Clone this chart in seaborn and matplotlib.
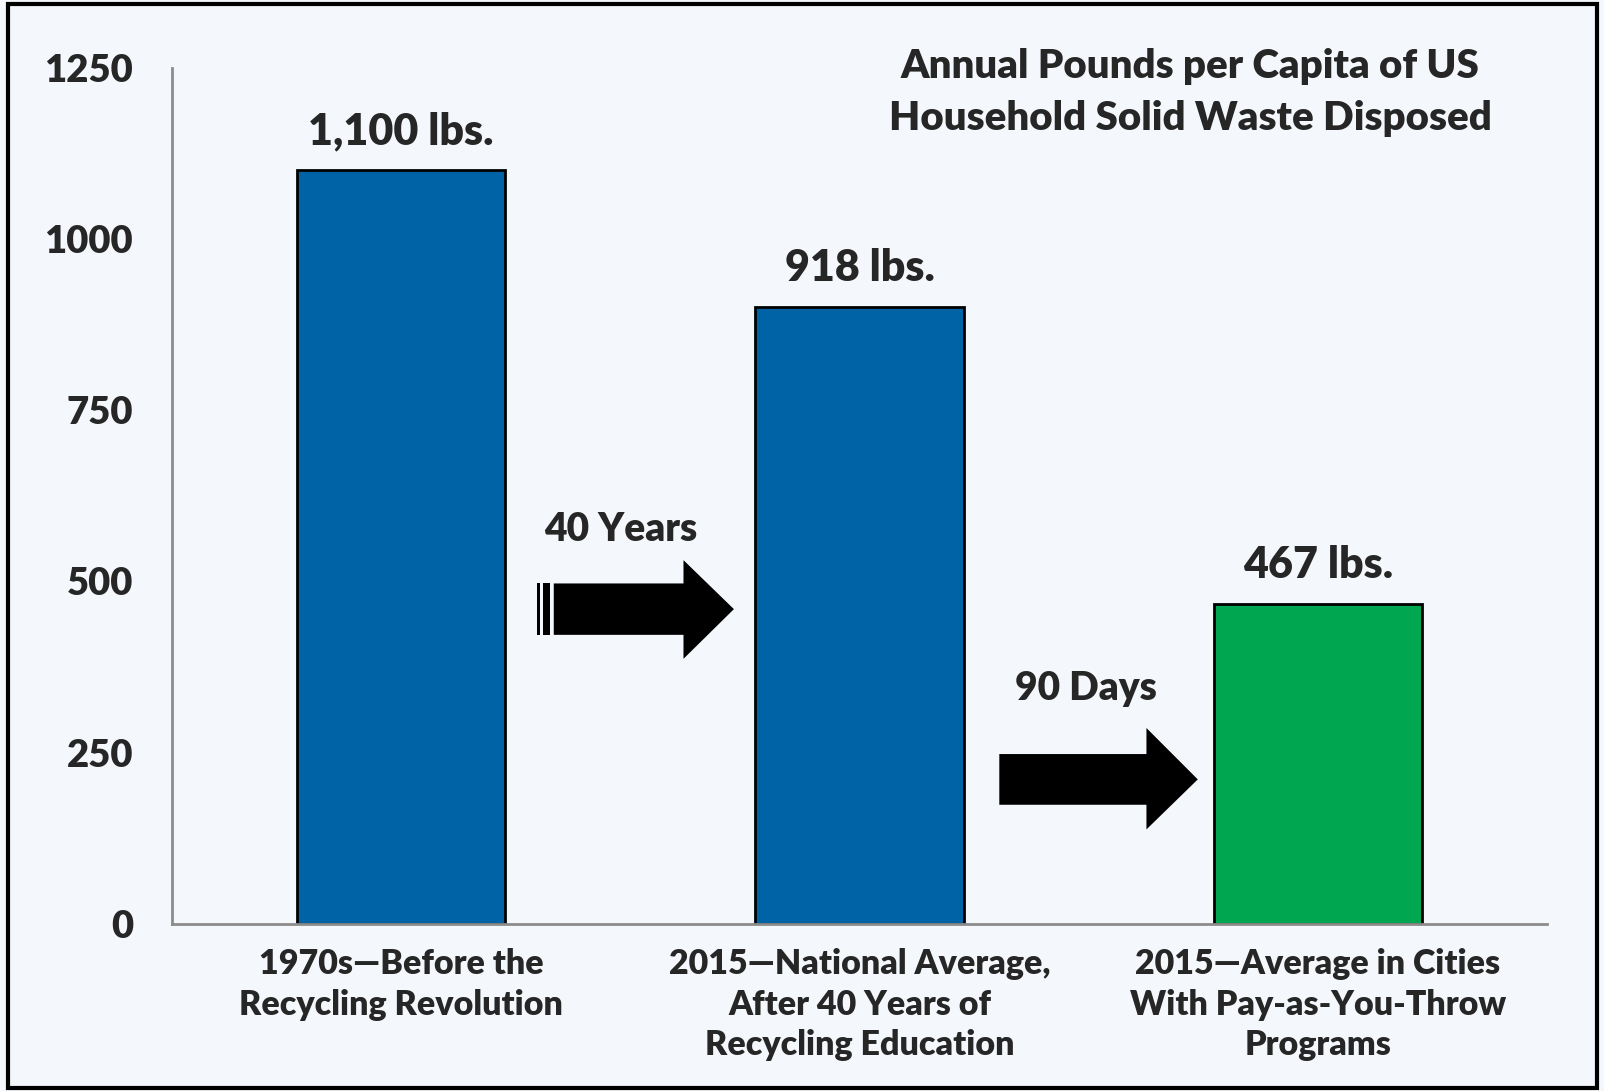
import matplotlib
matplotlib.use("Agg")
import matplotlib.pyplot as plt
from matplotlib.patches import Polygon, Rectangle
import seaborn as sns
import pandas as pd

# data
categories = [
    "1970s\u2014Before the\nRecycling Revolution",
    "2015\u2014National Average,\nAfter 40 Years of\nRecycling Education",
    "2015\u2014Average in Cities\nWith Pay-as-You-Throw\nPrograms",
]
values = [1100, 900, 467]
value_labels = ["1,100 lbs.", "918 lbs.", "467 lbs."]
bar_colors = ["#0063A6", "#0063A6", "#00A650"]
yticks = [0, 250, 500, 750, 1000, 1250]
title = "Annual Pounds per Capita of US\nHousehold Solid Waste Disposed"

BG = "#F4F8FC"
AXIS_GREY = "#8C8C8C"
W = "heavy"

sns.set_theme(style="white")
plt.rcParams["font.family"] = ["Lato", "DejaVu Sans"]
plt.rcParams["font.weight"] = W

fig = plt.figure(figsize=(16.04, 10.91), dpi=100, facecolor=BG)
ax = fig.add_axes([0.1072, 0.1531, 0.8573, 0.785])
ax.set_facecolor(BG)

df = pd.DataFrame({"cat": categories, "val": values})
sns.barplot(data=df, x="cat", y="val", hue="cat", palette=bar_colors,
            legend=False, width=0.455, edgecolor="black", linewidth=2,
            saturation=1, ax=ax)

ax.set_ylim(0, 1250)
ax.set_xlim(-0.5, 2.5)
ax.set_yticks(yticks)
ax.set_xlabel("")
ax.set_ylabel("")

for s in ["top", "right"]:
    ax.spines[s].set_visible(False)
for s in ["left", "bottom"]:
    ax.spines[s].set_color(AXIS_GREY)
    ax.spines[s].set_linewidth(2)

ax.tick_params(axis="y", direction="out", length=13, width=2, color=AXIS_GREY,
               labelsize=27.5, pad=15)
ax.tick_params(axis="x", length=0, labelsize=24.5, pad=17.5)
for lbl in ax.get_yticklabels():
    lbl.set_fontweight(W)
for lbl in ax.get_xticklabels():
    lbl.set_fontweight(W)
    lbl.set_linespacing(1.33)
    lbl.set_multialignment("center")

# value labels above the bars
for i, (v, t) in enumerate(zip(values, value_labels)):
    ax.annotate(t, xy=(i, v), xytext=(0, 28), textcoords="offset points",
                ha="center", va="center", fontsize=31, fontweight=W)

# arrow 1 (with striped tail)
a1_shaft = (0.333, 0.616, 422, 497)
a1_head = (0.616, 0.726, 387, 531)
a1_stripes = [(0.296, 0.3035), (0.309, 0.324)]
# arrow 2
a2_shaft = (1.305, 1.626, 174, 248)
a2_head = (1.626, 1.738, 138, 286)


def arrow_poly(shaft, head):
    x0, x1, y0, y1 = shaft
    hx0, hx1, hy0, hy1 = head
    ym = (y0 + y1) / 2
    return [(x0, y0), (hx0, y0), (hx0, hy0), (hx1, ym), (hx0, hy1),
            (hx0, y1), (x0, y1)]


for shaft, head in [(a1_shaft, a1_head), (a2_shaft, a2_head)]:
    ax.add_patch(Polygon(arrow_poly(shaft, head), closed=True,
                         facecolor="black", edgecolor="none", zorder=5))
for sx0, sx1 in a1_stripes:
    ax.add_patch(Rectangle((sx0, a1_shaft[2]), sx1 - sx0,
                           a1_shaft[3] - a1_shaft[2],
                           facecolor="black", edgecolor="none", zorder=5))

ax.text(0.48, 576, "40 Years", ha="center", va="center", fontsize=28,
        fontweight=W)
ax.text(1.493, 344, "90 Days", ha="center", va="center", fontsize=28,
        fontweight=W)

fig.text(0.742, 0.9155, title, ha="center", va="center", fontsize=29,
         fontweight=W, linespacing=1.5)

# outer frame
fig.patches.append(Rectangle((0.005, 0.003), 0.9906, 0.9933,
                             transform=fig.transFigure, fill=False,
                             edgecolor="black", linewidth=3))

fig.savefig("out.png", dpi=100, facecolor=BG)
